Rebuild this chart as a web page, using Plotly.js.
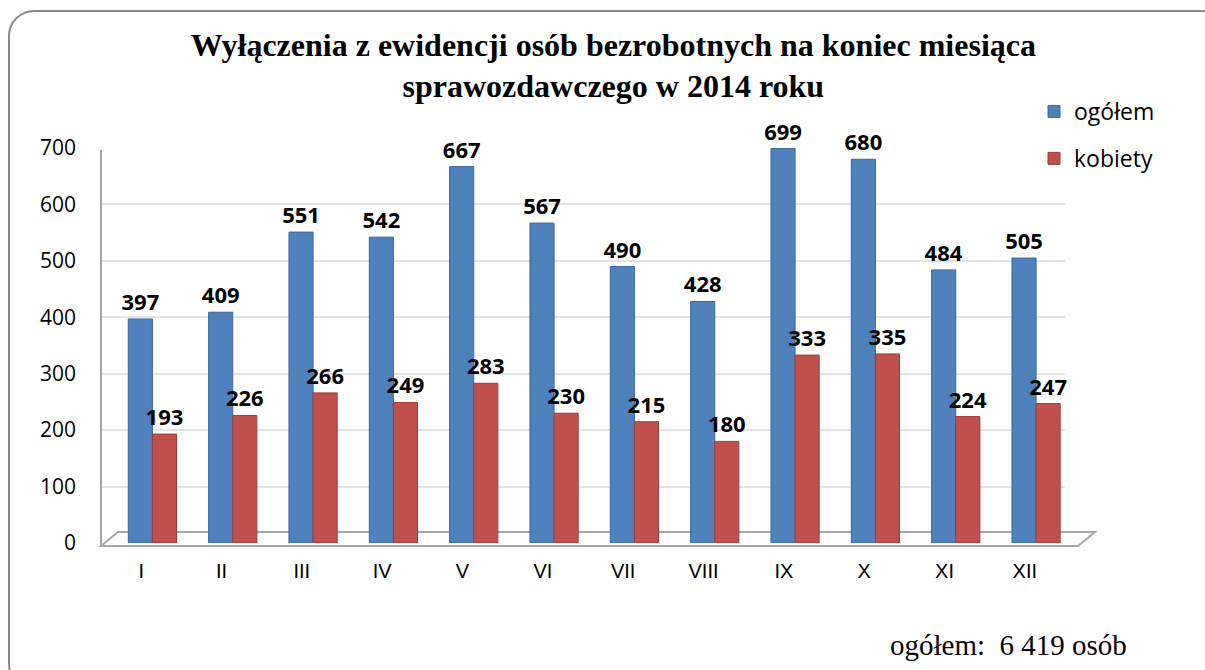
<!DOCTYPE html>
<html>
<head>
<meta charset="utf-8">
<script src="https://cdn.plot.ly/plotly-3.0.1.min.js"></script>
<style>
  html, body { margin:0; padding:0; background:#fff; overflow:hidden; }
  #frame { position:absolute; left:8px; top:10px; width:1220px; height:680px;
           border:2px solid #8a8a8a; border-radius:26px; box-sizing:border-box; }
  #chart { position:absolute; left:0; top:0; width:1205px; height:670px; }
</style>
</head>
<body>
<div id="frame"></div>
<div id="chart"></div>
<script>
const months = ['I','II','III','IV','V','VI','VII','VIII','IX','X','XI','XII'];
const ogolem = [397, 409, 551, 542, 667, 567, 490, 428, 699, 680, 484, 505];
const kobiety = [193, 226, 266, 249, 283, 230, 215, 180, 333, 335, 224, 247];
const yTicks = [0, 100, 200, 300, 400, 500, 600, 700];

const W = 1205, H = 670;
const mL = 101, mR = 140, mT = 148, mB = 127;
const pw = W - mL - mR, ph = H - mT - mB;
const px = x => (x - mL) / pw;
const py = y => (H - mB - y) / ph;

const blue = '#4F81BD', red = '#C0504D';
const labelFont = { family:'Open Sans, sans-serif', size:22, color:'#000', weight:'bold' };

const traces = [
  { type:'bar', name:'ogółem', x: months, y: ogolem, width:0.3, offset:-0.16,
    marker:{ color: blue, line:{ color:'#3a679e', width:1 } },
    text: ogolem.map(String), textposition:'outside', cliponaxis:false, constraintext:'none',
    textfont: labelFont, legendgroup:'a', hoverinfo:'y' },
  { type:'bar', name:'kobiety', x: months, y: kobiety, width:0.3, offset:0.14,
    marker:{ color: red, line:{ color:'#9c3b38', width:1 } },
    text: kobiety.map(String), textposition:'outside', cliponaxis:false, constraintext:'none',
    textfont: labelFont, legendgroup:'b', hoverinfo:'y' }
];

// 3D-like floor and left wall decoration
const shapes = [
  { type:'path', xref:'paper', yref:'paper',
    path:`M ${px(101)} ${py(546)} L ${px(1078)} ${py(546)} L ${px(1095)} ${py(532)} L ${px(118)} ${py(532)} Z`,
    line:{ color:'#a6a6a6', width:2 }, fillcolor:'rgba(0,0,0,0)', layer:'below' },
  { type:'line', xref:'paper', yref:'paper', x0:px(101), x1:px(101), y0:py(546), y1:py(150),
    line:{ color:'#a6a6a6', width:2 } }
];

const layout = {
  width: W, height: H,
  margin:{ l:mL, r:mR, t:mT, b:mB },
  paper_bgcolor:'rgba(0,0,0,0)', plot_bgcolor:'rgba(0,0,0,0)',
  title:{ text:'Wyłączenia z ewidencji osób bezrobotnych na koniec miesiąca<br>sprawozdawczego w 2014 roku',
          font:{ family:'Liberation Serif, Times New Roman, serif', size:32, color:'#000', weight:'bold' },
          x:0.509, xanchor:'center', y:0.917, yanchor:'top' },
  barmode:'overlay',
  bargap:0,
  xaxis:{ type:'category', showgrid:false, zeroline:false, showline:false, ticks:'',
          tickfont:{ family:'Liberation Sans, Arial, sans-serif', size:20, color:'#000' },
          ticklabelstandoff:14 },
  yaxis:{ range:[0,700], tickvals: yTicks, showgrid:true, gridcolor:'#e3e3e3', gridwidth:2,
          zeroline:false, showline:false, ticks:'',
          tickfont:{ family:'Open Sans, sans-serif', size:21, color:'#000' },
          ticklabelstandoff:24 },
  legend:{ x:px(1034), xanchor:'left', y:py(90), yanchor:'top', orientation:'v',
           font:{ family:'Open Sans, sans-serif', size:23, color:'#000' },
           traceorder:'grouped', tracegroupgap:14, bgcolor:'rgba(0,0,0,0)' },
  shapes: shapes,
  annotations:[
    { text:'ogółem:  6 419 osób', xref:'paper', yref:'paper', x:px(1129), y:py(645),
      xanchor:'right', yanchor:'middle', showarrow:false,
      font:{ family:'Liberation Serif, Times New Roman, serif', size:29, color:'#000' } }
  ],
  showlegend:true
};

Plotly.newPlot('chart', traces, layout, { displayModeBar:false, staticPlot:true });
</script>
</body>
</html>
